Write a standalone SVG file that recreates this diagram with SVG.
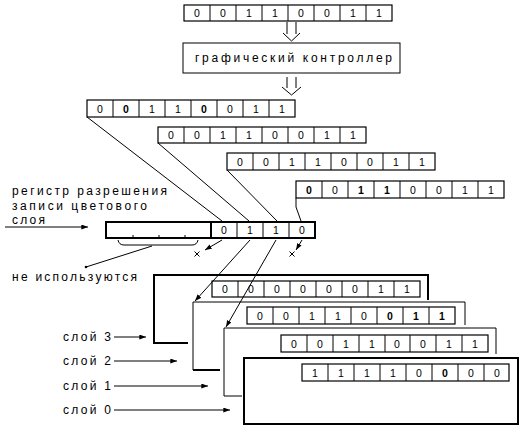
<svg xmlns="http://www.w3.org/2000/svg" width="526" height="429" viewBox="0 0 526 429">
<style>
.bg{fill:#fff}
.reg{fill:#fff;stroke:#000;stroke-width:1.2}
.div{stroke:#000;stroke-width:1;fill:none}
.thick{stroke:#000;stroke-width:2;fill:none}
.box{fill:#fff;stroke:#000;stroke-width:1}
.d{font-family:"Liberation Sans","DejaVu Sans",sans-serif;font-size:10.5px;text-anchor:middle;fill:#000}
.b{font-weight:bold}
.lbl{font-family:"Liberation Sans","DejaVu Sans",sans-serif;font-size:12px;fill:#000}
.ln{stroke:#000;stroke-width:1;fill:none}
</style>
<defs>
<marker id="ah" viewBox="0 0 8 6" refX="8" refY="3" markerWidth="7" markerHeight="5" orient="auto" markerUnits="userSpaceOnUse"><path d="M0,0 L8,3 L0,6 z" fill="#000"/></marker>
</defs>
<rect class="bg" x="0" y="0" width="526" height="429"/>

<!-- layer outlines (back to front) -->
<g id="layer3">
<path class="thick" d="M188,343 H154 V275 H428 V300"/>
<rect class="reg" x="212" y="281" width="208" height="16"/>
<path class="div" d="M238,281V297M264,281V297M290,281V297M316,281V297M342,281V297M368,281V297M394,281V297"/>
<text class="d" y="293"><tspan x="225">0</tspan><tspan x="251">0</tspan><tspan x="277">0</tspan><tspan x="303">0</tspan><tspan x="329">0</tspan><tspan x="355">0</tspan><tspan x="381">1</tspan><tspan x="407">1</tspan></text>
</g>
<g id="layer2">
<path class="ln" d="M465,325 V302 H193 V370"/>
<path class="thick" d="M193,370 H220"/>
<rect class="reg" x="247" y="307" width="208" height="17"/>
<path class="div" d="M273,307V324M299,307V324M325,307V324M351,307V324M377,307V324M403,307V324M429,307V324"/>
<text class="d" y="320"><tspan x="260">0</tspan><tspan x="286">0</tspan><tspan x="312">1</tspan><tspan x="338">1</tspan><tspan x="364">0</tspan><tspan x="390" class="b">0</tspan><tspan x="416" class="b">1</tspan><tspan x="442" class="b">1</tspan></text>
</g>
<g id="layer1">
<path class="ln" d="M496,354 V328 H224 V396 H242"/>
<rect class="reg" x="281" y="335" width="207" height="17"/>
<path class="div" d="M307,335V352M333,335V352M359,335V352M385,335V352M410,335V352M436,335V352M462,335V352"/>
<text class="d" y="348"><tspan x="294">0</tspan><tspan x="320">0</tspan><tspan x="346">1</tspan><tspan x="372">1</tspan><tspan x="397">0</tspan><tspan x="423">0</tspan><tspan x="449">1</tspan><tspan x="475">1</tspan></text>
</g>
<g id="layer0">
<rect x="244" y="358" width="274" height="66" fill="#fff" stroke="#000" stroke-width="2"/>
<rect class="reg" x="302" y="364" width="207" height="17" stroke-width="1.6"/>
<path class="div" d="M328,364V381M354,364V381M380,364V381M406,364V381M432,364V381M458,364V381M484,364V381"/>
<text class="d" y="377"><tspan x="315">1</tspan><tspan x="341">1</tspan><tspan x="367">1</tspan><tspan x="393">1</tspan><tspan x="419">0</tspan><tspan x="445" class="b">0</tspan><tspan x="471">0</tspan><tspan x="497">0</tspan></text>
</g>

<!-- top register -->
<g id="top-reg">
<rect class="reg" x="184" y="5" width="208" height="16"/>
<path class="div" d="M210,5V21M236,5V21M262,5V21M288,5V21M314,5V21M340,5V21M366,5V21"/>
<text class="d" y="17"><tspan x="197">0</tspan><tspan x="223">0</tspan><tspan x="249">1</tspan><tspan x="275">1</tspan><tspan x="301">0</tspan><tspan x="327">0</tspan><tspan x="353">1</tspan><tspan x="379">1</tspan></text>
</g>
<g id="controller">
<rect class="box" x="183" y="43" width="217" height="30"/>
<text class="lbl" x="195" y="62" textLength="197" lengthAdjust="spacing">графический контроллер</text>
</g>
<g id="reg1">
<rect class="reg" x="87" y="100" width="208" height="17"/>
<path class="div" d="M113,100V117M139,100V117M165,100V117M191,100V117M217,100V117M243,100V117M269,100V117"/>
<text class="d" y="113"><tspan x="100">0</tspan><tspan x="126" class="b">0</tspan><tspan x="152">1</tspan><tspan x="178">1</tspan><tspan x="204" class="b">0</tspan><tspan x="230">0</tspan><tspan x="256">1</tspan><tspan x="282">1</tspan></text>
</g>
<g id="reg2">
<rect class="reg" x="158" y="127" width="208" height="16"/>
<path class="div" d="M184,127V143M210,127V143M236,127V143M262,127V143M288,127V143M314,127V143M340,127V143"/>
<text class="d" y="139"><tspan x="171">0</tspan><tspan x="197">0</tspan><tspan x="223">1</tspan><tspan x="249">1</tspan><tspan x="275">0</tspan><tspan x="301">0</tspan><tspan x="327">1</tspan><tspan x="353">1</tspan></text>
</g>
<g id="reg3">
<rect class="reg" x="227" y="153" width="208" height="17"/>
<path class="div" d="M253,153V170M279,153V170M305,153V170M331,153V170M357,153V170M383,153V170M409,153V170"/>
<text class="d" y="166"><tspan x="240">0</tspan><tspan x="266">0</tspan><tspan x="292">1</tspan><tspan x="318">1</tspan><tspan x="344">0</tspan><tspan x="370">0</tspan><tspan x="396">1</tspan><tspan x="422">1</tspan></text>
</g>
<g id="reg4">
<rect class="reg" x="296" y="181" width="208" height="17"/>
<path class="div" d="M322,181V198M348,181V198M374,181V198M400,181V198M426,181V198M452,181V198M478,181V198"/>
<text class="d" y="194"><tspan x="309" class="b">0</tspan><tspan x="335">0</tspan><tspan x="361" class="b">1</tspan><tspan x="387" class="b">1</tspan><tspan x="413">0</tspan><tspan x="439">0</tspan><tspan x="465">1</tspan><tspan x="491">1</tspan></text>
</g>
<g id="enable-reg">
<rect x="106" y="222" width="209" height="16" fill="#fff" stroke="#000" stroke-width="2"/>
<path class="div" d="M133,235V238M159,235V238M185,235V238M237,222V238M263,222V238M289,222V238"/>
<path class="thick" d="M211,222V238"/>
<text class="d" y="234"><tspan x="224">0</tspan><tspan x="250">1</tspan><tspan x="276">1</tspan><tspan x="302">0</tspan></text>
</g>

<!-- labels -->
<g id="labels">
<text class="lbl" x="12" y="195" textLength="155" lengthAdjust="spacing">регистр разрешения</text>
<text class="lbl" x="12" y="210" textLength="135" lengthAdjust="spacing">записи цветового</text>
<text class="lbl" x="12" y="224" textLength="33" lengthAdjust="spacing">слоя</text>
<text class="lbl" x="12" y="281" textLength="125" lengthAdjust="spacing">не используются</text>
<text class="lbl" x="63" y="341" textLength="48" lengthAdjust="spacing">слой 3</text>
<text class="lbl" x="63" y="365" textLength="48" lengthAdjust="spacing">слой 2</text>
<text class="lbl" x="63" y="390" textLength="48" lengthAdjust="spacing">слой 1</text>
<text class="lbl" x="63" y="414" textLength="48" lengthAdjust="spacing">слой 0</text>
</g>

<!-- connectors -->
<g id="connectors">
<path class="ln" d="M287,22V34M296,22V34M283,33L291.5,41L300,33"/>
<path class="ln" d="M287,77V88M296,77V88M282,87L291.5,95L301,87"/>
<path class="ln" d="M87,117L222,221"/>
<path class="ln" d="M158,143L249,221"/>
<path class="ln" d="M227,170L277,221"/>
<path class="ln" d="M296,198V207L301,221"/>
<path class="ln" d="M5,227H88" marker-end="url(#ah)"/>
<path class="ln" d="M118,240Q119,245 124,245H192Q197,245 198,240"/>
<path class="ln" d="M152,246L86,267"/>
<circle cx="86" cy="267" r="1.3" fill="#000"/>
<path class="ln" d="M222,240L205,250" marker-end="url(#ah)"/>
<path class="ln" d="M302,240L296,250" marker-end="url(#ah)"/>
<path class="ln" d="M194.5,251.5l5,5M199.5,251.5l-5,5M289.5,251.5l5,5M294.5,251.5l-5,5"/>
<path class="ln" d="M250,240L195,301" marker-end="url(#ah)"/>
<path class="ln" d="M276,240L226,327" marker-end="url(#ah)"/>
<path class="ln" d="M114,337H146" marker-end="url(#ah)"/>
<path class="ln" d="M114,361H177" marker-end="url(#ah)"/>
<path class="ln" d="M114,386H208" marker-end="url(#ah)"/>
<path class="ln" d="M114,410H230" marker-end="url(#ah)"/>
</g>
</svg>
